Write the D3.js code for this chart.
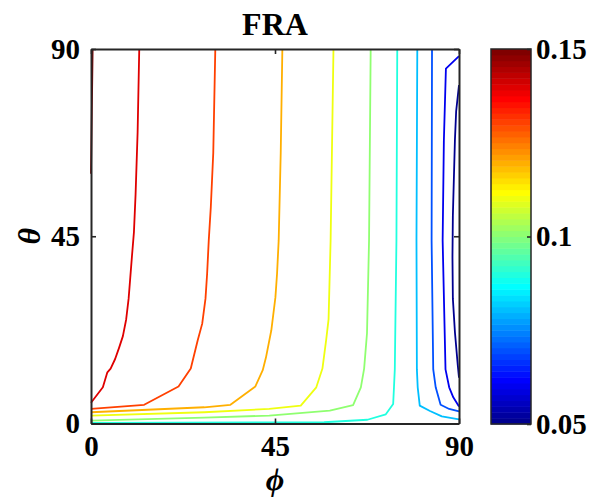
<!DOCTYPE html>
<html>
<head>
<meta charset="utf-8">
<script src="https://cdn.jsdelivr.net/npm/d3@7"></script>
<style>
  body { margin: 0; background: #fff; }
  svg { display: block; }
  text { font-family: "Liberation Serif", "Times New Roman", serif; font-weight: bold; fill: #000; }
</style>
</head>
<body>
<svg id="chart" width="590" height="503"></svg>
<script>
// Axis ticks
const phiTicks = [0, 45, 90];
const thetaTicks = [0, 45, 90];
const cbarTicks = [0.05, 0.1, 0.15];
const cbarTickLabels = ["0.05", "0.1", "0.15"];

// Contour levels and their iso-lines as [phi, theta] vertices (degrees)
const levels = [0.15, 0.14, 0.13, 0.12, 0.11, 0.10, 0.09, 0.08, 0.07, 0.06, 0.05];
const line015 = [[0.4, 90], [0.2, 75], [0, 60]];
const line014 = [[11.8, 90], [11.4, 70], [10.9, 55], [10.5, 46], [10.0, 40], [9.6, 35], [9.2, 30], [8.6, 25], [7.8, 21], [6.9, 18.3], [5.9, 15.5], [4.8, 13.2], [4.0, 12.3], [2.9, 8.7], [0, 5.0]];
const line013 = [[30.4, 90], [29.9, 65], [29.3, 52], [28.8, 44], [28.4, 36], [28.0, 30], [27.2, 24], [26.1, 20], [24.4, 13.2], [21.4, 8.9], [13.0, 4.5], [0, 3.5]];
const line012 = [[46.8, 90], [46.4, 65], [45.9, 44], [45.5, 36], [45.1, 30.3], [44.1, 22.4], [42.8, 15.9], [42.0, 12.8], [40.2, 8.9], [34.1, 4.5], [27.7, 3.9], [0, 2.7]];
const line011 = [[59.3, 90], [58.6, 44], [58.1, 25], [57.5, 20], [56.6, 13.2], [55.1, 8.7], [51.3, 4.3], [43.6, 3.5], [27.7, 2.7], [0, 1.9]];
const line010 = [[68.4, 90], [68.0, 44], [67.5, 21.7], [66.8, 13.2], [66.0, 8.7], [64.1, 4.4], [58.4, 3.1], [43.6, 1.9], [27.7, 1.4], [0, 0.7]];
const line009 = [[74.9, 90], [74.7, 44], [74.3, 13], [74.1, 8.7], [73.9, 4.7], [72.1, 2.2], [67.6, 0.9], [57.0, 0.3], [0, 0.15]];
const line008 = [[79.8, 90], [79.6, 44], [79.7, 13], [79.9, 8.7], [80.4, 4.3], [82.9, 3.0], [85.8, 1.7], [90, 1.0]];
const line007 = [[83.4, 90], [83.3, 44], [83.7, 13], [84.3, 8.7], [85.5, 4.5], [87.6, 3.5], [90, 2.9]];
const line006 = [[90, 88.3], [86.8, 85.3], [86.3, 68], [86.0, 44], [86.7, 13], [87.6, 8.7], [88.6, 6.3], [90, 4.1]];
const line005 = [[90, 81.3], [89.3, 75], [89.0, 68], [88.5, 50], [88.4, 40], [88.5, 30], [89.0, 22], [89.7, 14], [90, 11.0]];

const contourLines = [line015, line014, line013, line012, line011, line010, line009, line008, line007, line006, line005];

// MATLAB-style jet colormap with m rows
function jetMap(m) {
  const n = Math.ceil(m / 4);
  const u = [];
  for (let i = 1; i <= n; i++) u.push(i / n);
  for (let i = 1; i <= n - 1; i++) u.push(1);
  for (let i = n; i >= 1; i--) u.push(i / n);
  const off = Math.ceil(n / 2) - (m % 4 === 1 ? 1 : 0);
  const J = Array.from({ length: m }, () => [0, 0, 0]);
  u.forEach((v, k) => {
    const g = off + k + 1, r = g + n, b = g - n;
    if (r >= 1 && r <= m) J[r - 1][0] = v;
    if (g >= 1 && g <= m) J[g - 1][1] = v;
    if (b >= 1 && b <= m) J[b - 1][2] = v;
  });
  return J.map(c => d3.rgb(c[0] * 255, c[1] * 255, c[2] * 255).formatHex());
}

const nColors = 64;
const cmap = jetMap(nColors);
const cMin = 0.05, cMax = 0.15;
const colorOf = v => cmap[Math.max(0, Math.min(nColors - 1, Math.floor((v - cMin) / (cMax - cMin) * nColors + 1e-9)))];

const svg = d3.select("#chart");
const plot = { left: 91, right: 459, top: 49, bottom: 423.5 };
const cbar = { left: 491, right: 531, top: 49, bottom: 424 };
const axisColor = "#262626";

const x = d3.scaleLinear().domain([0, 90]).range([plot.left, plot.right]);
const y = d3.scaleLinear().domain([0, 90]).range([plot.bottom, plot.top]);

// Contour lines
const lineGen = d3.line().x(d => x(d[0])).y(d => y(d[1]));
svg.append("g")
  .selectAll("path")
  .data(contourLines)
  .join("path")
  .attr("d", lineGen)
  .attr("fill", "none")
  .attr("stroke", (d, i) => colorOf(levels[i]))
  .attr("stroke-width", 1.8)
  .attr("stroke-linejoin", "round");

// Axes (ticks pointing inward on all four sides)
function styleAxis(g) {
  g.selectAll(".domain").attr("stroke", axisColor).attr("stroke-width", 2);
  g.selectAll(".tick line").attr("stroke", axisColor).attr("stroke-width", 1.6);
  g.selectAll("text").attr("font-size", 29).attr("fill", "#000")
    .attr("font-family", "'Liberation Serif', 'Times New Roman', serif").attr("font-weight", "bold");
}
svg.append("g").attr("transform", `translate(0,${plot.bottom})`)
  .call(d3.axisBottom(x).tickValues(phiTicks).tickSize(-5).tickSizeOuter(0).tickPadding(12))
  .call(styleAxis);
svg.append("g").attr("transform", `translate(0,${plot.top})`)
  .call(d3.axisTop(x).tickValues(phiTicks).tickSize(-5).tickSizeOuter(0).tickFormat(""))
  .call(styleAxis);
svg.append("g").attr("transform", `translate(${plot.left},0)`)
  .call(d3.axisLeft(y).tickValues(thetaTicks).tickSize(-5).tickSizeOuter(0).tickPadding(11))
  .call(styleAxis);
svg.append("g").attr("transform", `translate(${plot.right},0)`)
  .call(d3.axisRight(y).tickValues(thetaTicks).tickSize(-5).tickSizeOuter(0).tickFormat(""))
  .call(styleAxis);

// Title and axis labels
svg.append("text").attr("x", (plot.left + plot.right) / 2).attr("y", 35)
  .attr("text-anchor", "middle").attr("font-size", 32).text("FRA");
svg.append("text").attr("x", (plot.left + plot.right) / 2).attr("y", 490)
  .attr("text-anchor", "middle").attr("font-size", 32).attr("font-style", "italic").text("ϕ");
svg.append("text").attr("transform", `translate(40,${(plot.top + plot.bottom) / 2}) rotate(-90)`)
  .attr("text-anchor", "middle").attr("font-size", 32).attr("font-style", "italic").text("θ");

// Colorbar
const cy = d3.scaleLinear().domain([cMin, cMax]).range([cbar.bottom, cbar.top]);
const steps = d3.range(nColors);
svg.append("g").selectAll("rect").data(steps).join("rect")
  .attr("x", cbar.left)
  .attr("width", cbar.right - cbar.left)
  .attr("y", i => cy(cMin + (i + 1) * (cMax - cMin) / nColors))
  .attr("height", i => cy(cMin + i * (cMax - cMin) / nColors) - cy(cMin + (i + 1) * (cMax - cMin) / nColors) + 0.5)
  .attr("fill", i => cmap[i]);
svg.append("rect").attr("x", cbar.left).attr("y", cbar.top)
  .attr("width", cbar.right - cbar.left).attr("height", cbar.bottom - cbar.top)
  .attr("fill", "none").attr("stroke", axisColor).attr("stroke-width", 1.5);
svg.append("g").attr("transform", `translate(${cbar.right},0)`)
  .call(d3.axisRight(cy).tickValues(cbarTicks).tickSize(-4).tickSizeOuter(0).tickPadding(5)
    .tickFormat((d, i) => cbarTickLabels[i]))
  .call(g => { g.select(".domain").remove(); })
  .call(styleAxis);
</script>
</body>
</html>
